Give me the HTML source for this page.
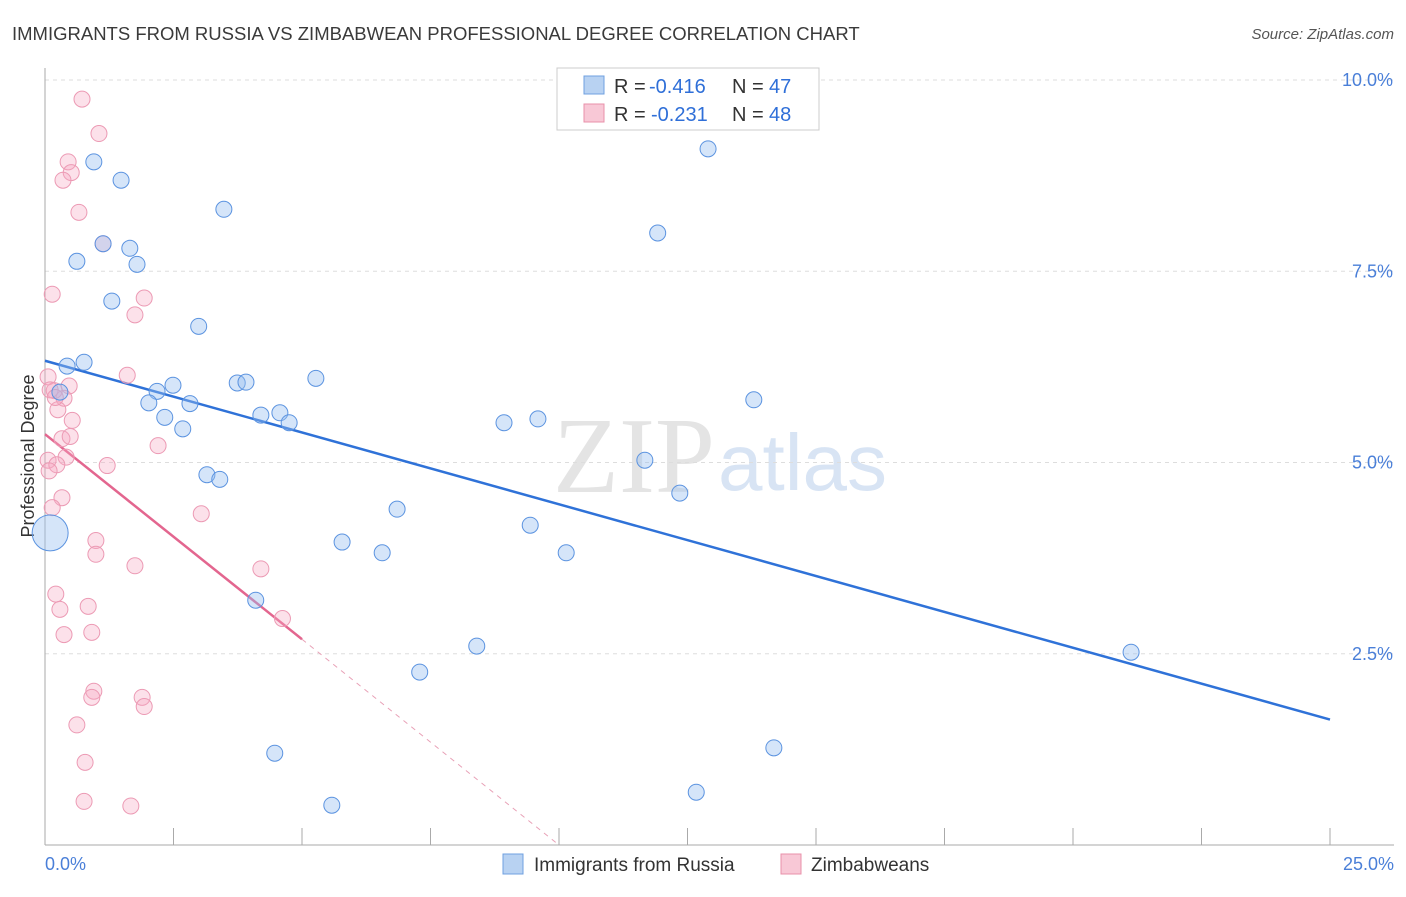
<!DOCTYPE html>
<html><head><meta charset="utf-8"><style>
body{margin:0;background:#fff;font-family:"Liberation Sans",sans-serif;}
</style></head><body>
<svg id="chart" width="1406" height="892" xmlns="http://www.w3.org/2000/svg" style="font-family:'Liberation Sans',sans-serif">
<text x="12" y="40" font-size="18.5" fill="#3a3a3a">IMMIGRANTS FROM RUSSIA VS ZIMBABWEAN PROFESSIONAL DEGREE CORRELATION CHART</text>
<text x="1394" y="39" font-size="15" fill="#555" text-anchor="end" font-style="italic">Source: ZipAtlas.com</text>
<text x="553" y="492" font-size="108" fill="#e4e4e4" font-family="Liberation Serif">ZIP</text>
<text x="718" y="490" font-size="80" fill="#d8e4f4">atlas</text>
<text transform="translate(34,456) rotate(-90)" font-size="18" fill="#333" text-anchor="middle">Professional Degree</text>
<g id="grid"></g><g id="axes"></g><g id="lines"></g><g id="pts"></g>
<g>
<rect x="557" y="68" width="262" height="62" fill="#fff" stroke="#ccc"/>
<rect x="584" y="76" width="20" height="18" fill="#b8d2f2" stroke="#6fa0e0"/>
<text x="614" y="93" font-size="20" fill="#333">R =</text>
<text x="649" y="93" font-size="20" fill="#2f6fd8">-0.416</text>
<text x="732" y="93" font-size="20" fill="#333">N =</text>
<text x="769" y="93" font-size="20" fill="#2f6fd8">47</text>
<rect x="584" y="104" width="20" height="18" fill="#f8c8d6" stroke="#e890aa"/>
<text x="614" y="121" font-size="20" fill="#333">R =</text>
<text x="651" y="121" font-size="20" fill="#2f6fd8">-0.231</text>
<text x="732" y="121" font-size="20" fill="#333">N =</text>
<text x="769" y="121" font-size="20" fill="#2f6fd8">48</text>
</g>
<g>
<rect x="503" y="854" width="20" height="20" fill="#b8d2f2" stroke="#6fa0e0"/>
<text x="534" y="871" font-size="19" fill="#333">Immigrants from Russia</text>
<rect x="781" y="854" width="20" height="20" fill="#f8c8d6" stroke="#e890aa"/>
<text x="811" y="871" font-size="19" fill="#333">Zimbabweans</text>
</g>
</svg>
<script>
const xTicks=[0,2.5,5,7.5,10,12.5,15,17.5,20,22.5,25];
const yTicks=[2.5,5,7.5,10];
const yTickLabels=["2.5%","5.0%","7.5%","10.0%"];
const blueX=[0.95,1.48,3.48,1.65,0.62,1.79,1.3,2.99,0.76,0.43,0.29,2.49,2.18,2.02,2.82,2.33,2.68,3.74,3.91,5.27,4.2,4.57,4.75,3.15,3.4,6.85,5.78,6.56,9.44,10.14,8.93,9.59,11.67,12.35,11.92,12.9,13.79,4.1,8.4,7.29,4.47,5.58,14.18,12.67,21.13,0.1,1.13];
const blueY=[8.93,8.69,8.31,7.8,7.63,7.59,7.11,6.78,6.31,6.26,5.92,6.01,5.93,5.78,5.77,5.59,5.44,6.04,6.05,6.1,5.62,5.65,5.52,4.84,4.78,4.39,3.96,3.82,4.18,3.82,5.52,5.57,5.03,4.6,8.0,9.1,5.82,3.2,2.6,2.26,1.2,0.52,1.27,0.69,2.52,4.08,7.86];
const pinkX=[0.72,1.05,0.45,0.51,0.35,0.66,1.13,0.14,1.93,1.75,1.6,0.06,0.47,0.37,0.18,0.25,0.53,0.33,0.49,2.2,1.21,0.41,0.06,0.23,0.08,0.33,0.14,3.04,0.99,0.99,1.75,4.2,0.21,0.29,0.84,4.62,0.37,0.91,0.95,0.91,1.89,1.93,0.62,0.78,0.76,1.67,0.1,0.2];
const pinkY=[9.75,9.3,8.93,8.79,8.69,8.27,7.86,7.2,7.15,6.93,6.14,6.12,6.0,5.84,5.94,5.69,5.55,5.31,5.34,5.22,4.96,5.07,5.03,4.97,4.89,4.54,4.41,4.33,3.98,3.8,3.65,3.61,3.28,3.08,3.12,2.96,2.75,2.78,2.01,1.93,1.93,1.81,1.57,1.08,0.57,0.51,5.95,5.85];
const blueR=[...Array(45).fill(8),18,8];
const X=v=>45+v*51.4, Y=v=>845-v*76.5;
const NS="http://www.w3.org/2000/svg";
function mk(tag,attrs,parent){const e=document.createElementNS(NS,tag);for(const k in attrs)e.setAttribute(k,attrs[k]);document.getElementById(parent).appendChild(e);return e;}
yTicks.forEach((t,i)=>{
 const g=mk('line',{x1:45,x2:1394,y1:Y(t),y2:Y(t),stroke:'#ddd','stroke-dasharray':'4,4'},'grid');
 
 
 const l=mk('text',{x:1393,y:Y(t)+6,'font-size':18,fill:'#4a7fd8','text-anchor':'end'},'grid');
 l.textContent=yTickLabels[i];
 
 
});
const ax=mk('line',{x1:45,x2:1394,y1:845,y2:845,stroke:'#aaa'},'axes');


const ay=mk('line',{x1:45,x2:45,y1:68,y2:845,stroke:'#aaa'},'axes');


xTicks.forEach(t=>{const e=mk('line',{x1:X(t),x2:X(t),y1:828,y2:845,stroke:'#aaa'},'axes');
 
 });
[[0,'0.0%','start',45],[25,'25.0%','end',1394]].forEach(([t,s,a,x])=>{const e=mk('text',{x:x,y:870,'font-size':18,fill:'#4a7fd8','text-anchor':a},'axes');e.textContent=s;
 
 });
pinkX.forEach((x,i)=>{const c=mk('circle',{cx:X(x),cy:Y(pinkY[i]),r:8,fill:'rgba(245,170,195,0.35)',stroke:'#ec9ab4','stroke-width':1},'pts');
 
 });
blueX.forEach((x,i)=>{const c=mk('circle',{cx:X(x),cy:Y(blueY[i]),r:blueR[i],fill:'rgba(150,190,240,0.4)',stroke:'#5b93e0','stroke-width':1},'pts');
 
 });
const bl=mk('line',{x1:X(0),y1:Y(6.33),x2:X(25),y2:Y(1.64),stroke:'#2f72d8','stroke-width':2.5},'lines');


const pl=mk('line',{x1:X(0),y1:Y(5.37),x2:X(5),y2:Y(2.69),stroke:'#e3668f','stroke-width':2.5},'lines');


const pd=mk('line',{x1:X(5),y1:Y(2.69),x2:X(10),y2:Y(0),stroke:'#e8a0b6','stroke-width':1,'stroke-dasharray':'5,5'},'lines');


</script>
</body></html>
